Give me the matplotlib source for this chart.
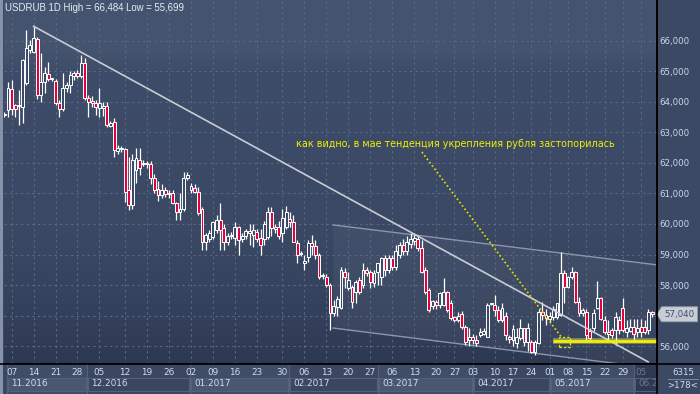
import matplotlib
matplotlib.use("Agg")
import matplotlib.pyplot as plt
import numpy as np
from matplotlib.colors import LinearSegmentedColormap
from matplotlib.patches import Rectangle, Polygon
from matplotlib.lines import Line2D
import matplotlib.transforms as mtrans

# ---------------- data ----------------
opens = [63.62, 63.74, 64.42, 63.90, 63.86, 63.85, 64.61, 65.70, 65.65, 66.06,
         64.23, 64.67, 64.91, 64.76, 64.69, 63.98, 63.76, 64.45, 64.56, 64.85,
         64.96, 64.85, 65.27, 64.12, 64.00, 63.96, 63.80, 63.80, 63.87, 63.21,
         63.35, 62.39, 62.45, 62.45, 61.10, 60.62, 61.77, 62.10, 61.96, 61.98,
         61.96, 61.51, 61.15, 60.95, 61.10, 60.98, 61.00, 60.69, 60.39, 60.48,
         61.50, 61.11, 61.17, 61.06, 60.49, 59.42, 59.50, 59.58, 59.80, 60.13,
         59.87, 59.42, 59.65, 59.55, 59.90, 59.50, 59.60, 59.77, 59.64, 59.75,
         59.54, 59.50, 59.58, 60.40, 59.82, 59.90, 59.70, 59.91, 60.15, 60.08,
         59.39, 59.02, 58.72, 58.93, 59.39, 59.28, 58.98, 58.28, 58.27, 58.00,
         57.07, 57.29, 57.23, 58.44, 57.89, 57.92, 57.78, 58.16, 58.00, 58.49,
         58.44, 58.05, 58.44, 58.27, 58.87, 58.50, 58.90, 58.60, 59.00, 59.30,
         59.10, 59.35, 59.45, 59.50, 59.20, 58.49, 57.84, 57.30, 57.45, 57.34,
         57.34, 57.78, 57.40, 56.95, 56.85, 57.05, 56.63, 56.20, 56.30, 56.20,
         56.35, 56.40, 56.30, 57.38, 57.34, 57.18, 56.85, 57.00, 56.30, 56.20,
         56.10, 56.26, 56.58, 56.14, 56.14, 55.81, 56.11, 57.10, 57.02, 56.88,
         56.96, 56.96, 57.02, 58.38, 57.94, 58.27, 58.44, 57.45, 57.07, 57.12,
         56.50, 56.58, 57.24, 57.56, 56.85, 56.47, 56.52, 56.52, 56.85, 57.24,
         56.47, 56.50, 56.62, 56.45, 56.62, 56.62, 56.52, 57.12]
highs = [63.66, 64.67, 64.72, 63.95, 64.39, 65.40, 66.36, 66.03, 66.484, 66.12,
         65.60, 65.16, 65.32, 64.80, 64.75, 64.07, 64.94, 64.67, 65.00, 65.00,
         65.05, 65.54, 65.43, 64.23, 64.20, 64.07, 64.46, 64.00, 64.00, 63.38,
         63.48, 62.60, 62.55, 62.50, 62.20, 62.30, 62.49, 62.49, 62.10, 62.05,
         62.05, 61.65, 61.40, 61.30, 61.20, 61.10, 61.10, 60.73, 61.00, 61.70,
         61.72, 61.36, 61.30, 61.20, 60.57, 59.70, 59.80, 60.10, 60.30, 60.69,
         60.00, 59.70, 59.75, 60.05, 59.94, 59.70, 59.85, 60.00, 60.00, 59.85,
         59.85, 60.10, 60.57, 60.57, 60.00, 60.10, 60.50, 60.60, 60.40, 60.30,
         59.48, 59.10, 59.00, 59.48, 59.64, 59.48, 59.04, 58.40, 58.35, 58.06,
         57.50, 57.64, 58.60, 58.55, 58.44, 58.00, 58.16, 58.27, 58.71, 58.60,
         58.50, 58.50, 58.71, 58.93, 59.00, 59.00, 59.00, 59.30, 59.40, 59.50,
         59.60, 59.70, 59.70, 59.65, 59.48, 58.60, 57.90, 57.50, 57.50, 57.78,
         58.22, 57.80, 57.50, 57.00, 57.10, 57.15, 56.69, 56.60, 56.40, 56.35,
         56.60, 56.60, 57.40, 57.42, 57.67, 57.30, 57.40, 57.10, 56.35, 56.70,
         56.60, 56.90, 56.60, 56.75, 56.20, 56.20, 57.20, 57.45, 57.20, 57.10,
         57.30, 57.42, 59.09, 58.49, 58.30, 58.60, 58.46, 57.60, 57.25, 57.20,
         56.60, 57.20, 58.13, 57.60, 57.00, 56.85, 56.60, 57.10, 57.00, 57.57,
         56.85, 56.90, 56.90, 56.90, 56.90, 56.85, 57.20, 57.15]
lows = [63.52, 63.52, 63.57, 63.52, 63.25, 63.30, 64.55, 65.62, 65.60, 64.10,
        64.00, 64.29, 64.70, 64.70, 63.90, 63.52, 63.72, 64.33, 64.29, 64.72,
        64.78, 64.78, 64.07, 63.52, 63.85, 63.57, 63.51, 63.55, 63.19, 63.17,
        62.21, 62.30, 62.35, 60.73, 60.46, 60.50, 61.34, 61.60, 61.90, 61.85,
        61.30, 61.00, 60.75, 60.85, 60.90, 60.85, 60.66, 60.13, 60.13, 60.44,
        61.44, 61.00, 61.00, 60.30, 59.15, 59.15, 59.40, 59.50, 59.70, 59.15,
        59.15, 59.30, 59.50, 59.30, 58.98, 59.40, 59.50, 59.30, 59.25, 59.40,
        59.00, 59.30, 59.50, 59.60, 59.70, 59.50, 59.40, 59.85, 59.90, 59.40,
        58.72, 58.95, 58.50, 58.75, 59.00, 58.85, 58.20, 58.20, 57.95, 56.52,
        57.00, 56.98, 57.20, 57.90, 57.85, 57.26, 57.40, 57.70, 57.90, 58.30,
        57.90, 57.95, 58.00, 58.00, 58.30, 58.40, 58.50, 58.50, 58.90, 59.00,
        59.00, 59.20, 59.30, 59.10, 58.40, 57.70, 57.10, 57.20, 57.20, 57.25,
        57.30, 57.12, 56.85, 56.80, 56.80, 56.55, 56.03, 56.00, 56.05, 56.00,
        56.30, 56.35, 56.30, 57.35, 57.00, 56.80, 56.80, 56.20, 56.10, 56.00,
        55.95, 56.20, 56.00, 55.85, 55.76, 55.699, 56.05, 56.85, 56.70, 56.80,
        56.85, 56.90, 57.00, 57.41, 57.90, 58.20, 57.40, 57.00, 57.00, 56.20,
        56.15, 56.50, 57.20, 56.85, 56.40, 56.20, 56.25, 56.03, 56.40, 56.45,
        56.30, 56.45, 56.20, 56.30, 56.30, 56.40, 56.40, 56.95]
closes = [63.58, 64.45, 63.76, 63.76, 63.90, 65.38, 65.76, 65.87, 66.09, 64.23,
          64.67, 64.94, 64.74, 64.74, 63.96, 63.76, 64.45, 64.56, 64.89, 64.94,
          64.85, 65.27, 64.12, 64.01, 63.98, 63.83, 63.96, 63.86, 63.25, 63.32,
          62.43, 62.49, 62.48, 61.06, 60.62, 62.10, 62.15, 61.85, 61.98, 61.96,
          61.51, 61.11, 60.95, 61.10, 60.98, 61.00, 60.69, 60.39, 60.48, 61.50,
          61.62, 61.25, 61.06, 60.35, 59.42, 59.64, 59.70, 60.08, 60.13, 59.80,
          59.42, 59.60, 59.60, 59.90, 59.49, 59.60, 59.77, 59.70, 59.80, 59.50,
          59.31, 60.00, 60.40, 59.86, 59.90, 59.60, 60.20, 60.40, 60.08, 59.42,
          58.98, 59.04, 58.80, 59.37, 59.28, 58.98, 58.27, 58.30, 58.00, 57.07,
          57.31, 57.53, 58.49, 58.27, 58.16, 57.45, 58.11, 57.78, 58.49, 58.40,
          58.11, 58.40, 58.71, 58.87, 58.50, 58.90, 58.60, 59.10, 59.30, 59.10,
          59.40, 59.50, 59.55, 59.20, 58.44, 57.78, 57.18, 57.46, 57.35, 57.73,
          57.78, 57.18, 56.91, 56.85, 57.00, 56.63, 56.14, 56.30, 56.20, 56.10,
          56.45, 56.50, 57.34, 57.40, 57.18, 56.85, 57.25, 56.36, 56.22, 56.55,
          56.30, 56.58, 56.14, 56.60, 55.81, 56.14, 57.12, 57.02, 56.91, 56.98,
          57.20, 57.40, 58.38, 57.94, 58.25, 58.44, 57.45, 57.07, 57.18, 56.36,
          56.26, 57.09, 57.56, 56.88, 56.47, 56.39, 56.36, 56.96, 56.52, 56.52,
          56.58, 56.62, 56.40, 56.58, 56.47, 56.47, 57.12, 57.04]

day_tick_pos = [2, 8, 14, 20, 26, 33, 39, 45, 51, 57, 63, 69, 76, 82, 88, 94,
                100, 106, 112, 118, 123, 128, 134, 139, 144, 149, 154, 159, 164, 169, 174]
day_tick_labels = ["07", "14", "21", "28", "05", "12", "19", "26", "02", "09", "16",
                   "23", "30", "06", "13", "20", "27", "06", "13", "20", "27", "03",
                   "10", "17", "24", "01", "08", "15", "22", "29", "05"]
month_starts = [0.7, 22.6, 50.7, 77.8, 102.1, 128.0, 149.1, 172.0]
month_labels = ["11.2016", "12.2016", "01.2017", "02.2017", "03.2017",
                "04.2017", "05.2017", "06.2017"]
price_ticks = [56, 57, 58, 59, 60, 61, 62, 63, 64, 65, 66]

# drawn analysis objects (bar index, price)
trend_x, trend_y = [8, 175.9], [66.484, 55.48]
chan_up_x, chan_up_y = [89.8, 178.3], [59.97, 58.66]
chan_lo_x, chan_lo_y = [89.8, 178.3], [56.59, 55.26]
dotted_x, dotted_y = [114.1, 152.4], [62.36, 56.26]
support_x, support_y = [149.9, 178.3], [56.16, 56.16]
box_x, box_y = [151.6, 154.6], [55.97, 56.30]
note_x, note_y = 79.7, 62.62
note_text = "как видно, в мае тенденция укрепления рубля застопорилась"
title_text = "USDRUB 1D High = 66,484 Low = 55,699"
bars_info = ["6315", ">178<"]

# ---------------- styling ----------------
W, H = 700, 394
BG = "#3b4a66"
TXT = "#d0dcf0"
fig = plt.figure(figsize=(W / 100, H / 100), dpi=100)
fig.patch.set_facecolor("#3c4964")

XL = (-0.08, 178.33)
YL = (55.41, 67.344)

ax = fig.add_axes([4 / W, 30 / H, 653 / W, 364 / H])
ax.set_xlim(*XL)
ax.set_ylim(*YL)
cmap = LinearSegmentedColormap.from_list(
    "bg", [(0, "#2d3852"), (0.12, "#34405b"), (0.35, "#3a4864"),
           (0.8, "#3d4c68"), (0.86, "#44536e"), (1.0, "#46556f")])
grad = np.linspace(0, 1, 256).reshape(-1, 1)
ax.imshow(grad, extent=[XL[0], XL[1], YL[0], YL[1]], origin="lower",
          aspect="auto", cmap=cmap, zorder=0)

ax.set_xticks(day_tick_pos)
ax.set_yticks(price_ticks)
ax.grid(True, color="#5a6983", linestyle=(0, (2, 3)), linewidth=0.8, zorder=1)
ax.tick_params(axis="x", length=0, labelbottom=False)
ax.yaxis.tick_right()
ax.tick_params(axis="y", length=0, pad=1.5, labelsize=6.2, labelcolor="#c9d7ef")
last_close = closes[-1]
# the label nearest to the last-price tag is hidden behind it
ax.set_yticklabels(["" if abs(v - last_close) < 0.4 else f"{v},000" for v in price_ticks])
for s in ["top", "left"]:
    ax.spines[s].set_visible(False)
ax.spines["right"].set_color("black")
ax.spines["right"].set_linewidth(1.2)
ax.spines["bottom"].set_color("black")
ax.spines["bottom"].set_linewidth(1.2)

# channel fill + lines
ax.fill_between(chan_up_x, chan_lo_y, chan_up_y, color="white", alpha=0.045, zorder=1.5, lw=0)
ax.plot(chan_up_x, chan_up_y, color="#8c96aa", lw=1.0, zorder=2)
ax.plot(chan_lo_x, chan_lo_y, color="#8c96aa", lw=1.0, zorder=2)

# candles
o, h, l, c = map(np.array, (opens, highs, lows, closes))
idx = np.arange(len(o))
up = c >= o
ax.vlines(idx, l, h, color="white", lw=0.9, zorder=3)
blo = np.minimum(o, c)
bh = np.maximum(np.abs(c - o), 0.04)
ax.bar(idx[up], bh[up], bottom=blo[up], width=0.78, color=BG,
       edgecolor="white", linewidth=0.7, zorder=4)
ax.bar(idx[~up], bh[~up], bottom=blo[~up], width=0.78, color="#e3003b",
       edgecolor="white", linewidth=0.7, zorder=4)

# trend line
ax.plot(trend_x, trend_y, color="#c9ccd4", lw=1.2, zorder=5)

# yellow annotation objects
ax.plot(dotted_x, dotted_y, color="#e6e600", lw=1.2, linestyle=(0, (1, 1.5)), zorder=6)
ax.add_patch(Rectangle((box_x[0], box_y[0]), box_x[1] - box_x[0], box_y[1] - box_y[0],
                       fill=False, edgecolor="#e6e600", lw=0.9, linestyle=(0, (2, 1.5)), zorder=6))
ax.plot(support_x, support_y, color="#f5f56a", lw=4.0, alpha=0.45, zorder=6,
        solid_capstyle="butt")
ax.plot(support_x, support_y, color="#f0f000", lw=2.0, zorder=6, solid_capstyle="butt")
ax.text(note_x, note_y, note_text, color="#f0f000", fontsize=6.9,
        ha="left", va="center", zorder=7)

ax.text(0.0015, 0.978, title_text, transform=ax.transAxes, color="#e6ecf6",
        fontsize=6.9, family="Liberation Sans", ha="left", va="center", zorder=7)

# last price tag
tr = mtrans.blended_transform_factory(ax.transAxes, ax.transData)
lc = last_close
tag = Polygon([(1.0, lc), (1.007, lc + 0.245), (1.062, lc + 0.245),
               (1.062, lc - 0.245), (1.007, lc - 0.245)], closed=True,
              transform=tr, facecolor="#c9ccd3", edgecolor="#9aa2b0", lw=0.6,
              clip_on=False, zorder=8)
ax.add_patch(tag)
ax.text(1.035, lc, f"{lc:.3f}".replace(".", ","), transform=tr, color="#34507a",
        fontsize=6.2, ha="center", va="center", clip_on=False, zorder=9)

# ---------------- bottom date axis ----------------
axb = fig.add_axes([4 / W, 0, 653 / W, 30 / H])
axb.set_xlim(*XL)
axb.set_ylim(0, 30)
axb.axis("off")
axb.add_patch(Rectangle((XL[0], 0), XL[1] - XL[0], 30, facecolor="#3b4761", lw=0, zorder=0))
ends = month_starts[1:] + [XL[1]]
for i, (s, e, lab) in enumerate(zip(month_starts, ends, month_labels)):
    future = (i == len(month_labels) - 1)
    if future:
        col_face, box_face, tcol = "#2f3a52", "#2f3a52", "#6c7890"
        lab = lab[:4]  # only the start of the label is visible at the edge
    elif i % 2 == 0:
        col_face, box_face, tcol = "#404d67", "#4a5772", TXT
    else:
        col_face, box_face, tcol = "#3b4761", "#3b4761", TXT
    axb.add_patch(Rectangle((s, 0), e - s, 30, facecolor=col_face, lw=0, zorder=1))
    axb.add_patch(Rectangle((s + 0.3, 3.3), e - s - 0.6, 12.7, facecolor=box_face,
                            edgecolor="#56627c", lw=0.7, zorder=2))
    axb.plot([s, s], [0, 30], color="#56627c", lw=0.8, zorder=2)
    axb.text(s + 1.2, 10.0, lab, color=tcol, fontsize=6.4, ha="left", va="center",
             zorder=3)
for p, lab in zip(day_tick_pos, day_tick_labels):
    col = "#6c7890" if p >= month_starts[-1] else TXT
    axb.text(p, 21.3, lab, color=col, fontsize=6.4, ha="center", va="center", zorder=3)

# corner info
fig.text(683 / W, 1 - 372.5 / H, bars_info[0], color=TXT, fontsize=6.2,
         ha="center", va="center")
fig.text(683 / W, 1 - 385.5 / H, bars_info[1], color=TXT, fontsize=6.2,
         ha="center", va="center")
fig.add_artist(Line2D([668 / W, 698 / W], [1 - 379 / H, 1 - 379 / H],
                      color="#7d8aa2", lw=0.7))
fig.add_artist(Line2D([657 / W, 657 / W], [0, 1], color="black", lw=1.2))
fig.add_artist(Line2D([0, 1], [30 / H, 30 / H], color="black", lw=1.2))
fig.add_artist(Rectangle((0, 0), 3 / W, 1, facecolor="#8592a8", lw=0,
                         transform=fig.transFigure))

fig.savefig("out.png", dpi=100, facecolor=fig.get_facecolor())
